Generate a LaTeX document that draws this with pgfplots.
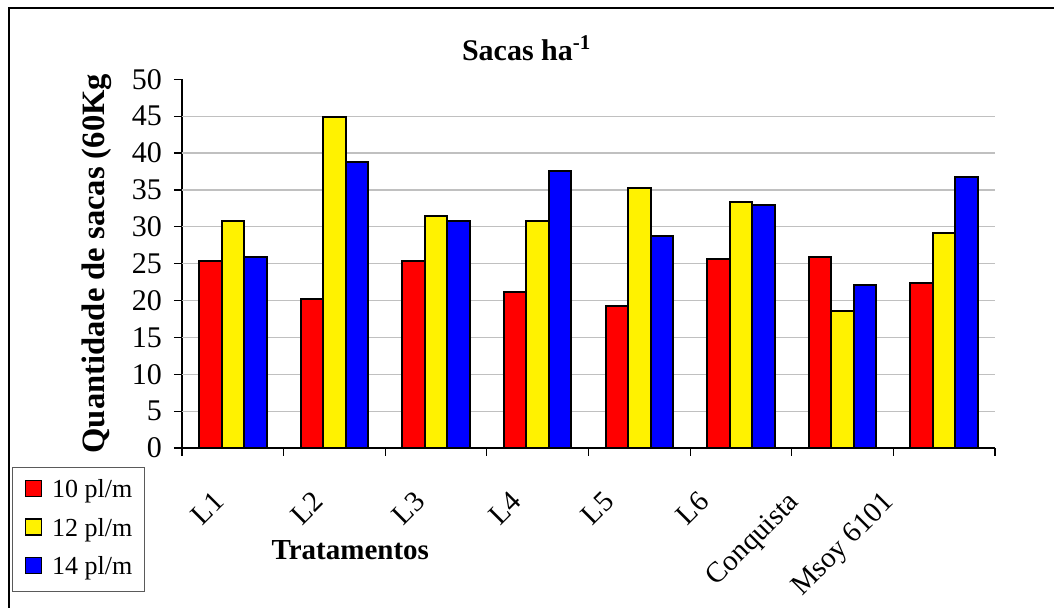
\documentclass[border=0pt]{standalone}
\usepackage{pgfplots}
\pgfplotsset{compat=1.18}
\usepackage{pgfplotstable}
\usepackage{fontspec}
\setmainfont{Liberation Serif}
\definecolor{gridgray}{RGB}{192,192,192}
\definecolor{legframe}{RGB}{90,90,90}

\pgfplotstableread{
x r y b
0 25.3 30.8 25.9
1 20.2 44.9 38.8
2 25.3 31.4 30.8
3 21.2 30.8 37.5
4 19.2 35.3 28.8
5 25.6 33.3 33.0
6 25.9 18.6 22.1
7 22.4 29.2 36.8
}\data

\begin{document}
\begin{tikzpicture}
\begin{axis}[
  at={(0pt,0pt)}, anchor=south west,
  scale only axis, width=406.5pt, height=184.35pt,
  xmin=-0.5, xmax=7.5, ymin=0, ymax=50,
  ybar=0pt, bar width=11.25pt,
  axis lines*=left,
  axis line style={-, black, line width=0.6pt},
  tick align=outside,
  major tick length=4pt,
  xtick={-0.5,0.5,...,7.5}, xticklabels={},
  x tick style={black, line width=0.6pt},
  extra x ticks={-0.364,0.616,1.616,2.567,3.478,4.410,5.291,6.223},
  extra x tick labels={L1,L2,L3,L4,L5,L6,Conquista\hspace{9pt},Msoy 6101\hspace{10pt}},
  extra x tick style={major tick length=0pt, grid=none,
     xticklabel style={xshift=8pt, yshift=-16pt, rotate=45, anchor=north east, font=\fontsize{14.5}{17}\selectfont}},
  ytick={0,5,...,50},
  y tick style={black, line width=0.6pt},
  yticklabel style={font=\fontsize{15}{18}\selectfont, xshift=-2.5pt},
  /pgf/number format/assume math mode=true,
  extra y ticks={5,10,...,45},
  extra y tick labels={},
  extra y tick style={major tick length=0pt, grid=major},
  major grid style={gridgray, line width=0.6pt},
  title={Sacas ha\textsuperscript{-1}},
  title style={at={(rel axis cs:0.424,1.052)}, anchor=center, font=\fontsize{15}{18}\selectfont\bfseries},
  xlabel={Tratamentos},
  xlabel style={at={(rel axis cs:0.207,-0.277)}, anchor=center, font=\fontsize{14.5}{17}\selectfont\bfseries},
  ylabel={Quantidade de sacas (60Kg},
  ylabel style={at={(rel axis cs:-0.1045,0.5)}, anchor=center, font=\fontsize{16.3}{19}\selectfont\bfseries},
  legend style={at={(-0.2091,-0.0515)}, anchor=north west, draw=legframe, line width=0.6pt,
     font=\fontsize{13}{15}\selectfont, row sep=7.75pt, column sep=5pt, inner xsep=6pt, inner ysep=6pt,
     nodes={inner sep=0pt, text height=9pt, text depth=2.5pt}},
  legend cell align=left,
  legend image code/.code={\draw[#1, line width=0.8pt] (0pt,-2.6pt) rectangle (8pt,5.4pt);},
]
\addplot[fill=red, draw=black, line width=1pt] table[x=x,y=r]{\data};
\addplot[fill=yellow, draw=black, line width=1pt] table[x=x,y=y]{\data};
\addplot[fill=blue, draw=black, line width=1pt] table[x=x,y=b]{\data};
\legend{10 pl/m, 12 pl/m, 14 pl/m}
\end{axis}
\draw[line width=1pt] (-86.5pt,-90pt) -- (-86.5pt,220pt) -- (450pt,220pt);
\pgfresetboundingbox
\useasboundingbox (-91pt,-80pt) rectangle (436pt,224pt);
\end{tikzpicture}
\end{document}
